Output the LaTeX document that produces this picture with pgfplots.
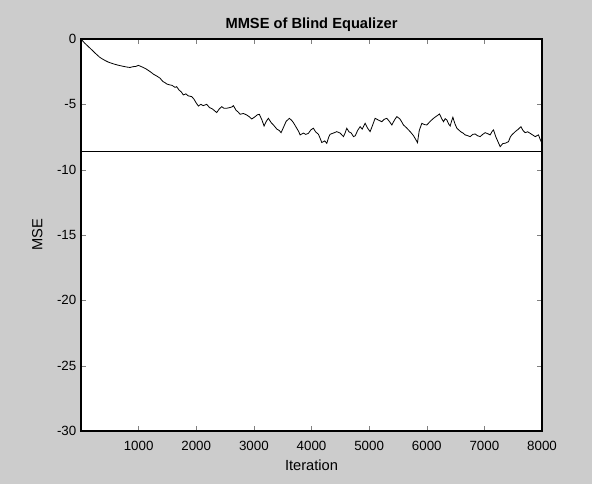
\documentclass[border=0pt]{standalone}
\usepackage{fontspec}
\setmainfont{Liberation Sans}
\usepackage{pgfplots}
\pgfplotsset{compat=1.18}
\usetikzlibrary{calc,backgrounds}
\begin{document}
\begin{tikzpicture}
\begin{axis}[
  name=ax, scale only axis, width=345.75pt, height=294pt,
  xmin=0, xmax=8000, ymin=-30, ymax=0,
  xtick={1000,2000,...,8000}, ytick={-30,-25,...,0},
  tick align=inside, tick pos=both, major tick length=4pt,
  scaled x ticks=false,
  /pgf/number format/assume math mode=true,
  /pgf/number format/set thousands separator={},
  tick label style={font=\fontsize{10}{12}\selectfont},
  xticklabel style={yshift=-4pt},
  title={MMSE of Blind Equalizer},
  title style={font=\bfseries\fontsize{11}{13}\selectfont, yshift=-4pt},
  xlabel={Iteration}, ylabel={MSE},
  label style={font=\fontsize{11}{13}\selectfont},
  xlabel style={yshift=0pt},
  ylabel style={yshift=4pt},
  axis line style={line width=0.9pt},
  axis background/.style={fill=white},
]
\addplot[black, line width=0.6pt] coordinates {
(0,0)(60,-0.3)(120,-0.55)(180,-0.8)(250,-1.1)(320,-1.38)(360,-1.5)(420,-1.65)(480,-1.78)
(560,-1.9)(640,-2.0)(720,-2.08)(800,-2.15)(850,-2.18)(900,-2.12)(950,-2.1)(995,-2.02)
(1040,-2.1)(1090,-2.2)(1140,-2.32)(1200,-2.5)(1260,-2.7)(1320,-2.85)(1372,-3.0)(1420,-3.25)
(1460,-3.35)(1487,-3.44)(1530,-3.5)(1580,-3.55)(1632,-3.7)(1660,-3.65)(1700,-3.9)(1740,-4.05)
(1776,-4.28)(1820,-4.2)(1860,-4.35)(1921,-4.41)(1960,-4.6)(2000,-4.9)(2037,-5.13)(2080,-5.0)
(2120,-5.1)(2182,-5.0)(2230,-5.25)(2280,-5.35)(2320,-5.5)(2355,-5.63)(2400,-5.35)(2442,-5.18)
(2480,-5.3)(2529,-5.3)(2580,-5.25)(2620,-5.2)(2645,-5.1)(2690,-5.45)(2730,-5.6)(2760,-5.76)
(2820,-5.7)(2877,-5.82)(2920,-5.95)(2963,-6.12)(3020,-5.95)(3060,-5.8)(3095,-5.76)(3140,-6.2)
(3177,-6.66)(3215,-6.3)(3252,-6.07)(3300,-6.4)(3339,-6.58)(3400,-6.9)(3440,-7.0)(3472,-7.17)
(3520,-6.7)(3560,-6.3)(3617,-6.07)(3660,-6.25)(3686,-6.4)(3740,-6.8)(3780,-7.1)(3802,-7.34)
(3860,-7.2)(3900,-7.3)(3946,-7.22)(3990,-6.95)(4033,-6.83)(4070,-7.1)(4120,-7.29)(4150,-7.6)
(4178,-7.92)(4230,-7.8)(4265,-7.98)(4300,-7.5)(4323,-7.29)(4380,-7.2)(4439,-7.09)(4497,-7.2)
(4554,-7.47)(4583,-7.2)(4612,-6.83)(4650,-7.1)(4690,-7.2)(4728,-7.47)(4760,-7.4)(4800,-7.0)
(4844,-6.71)(4880,-6.9)(4931,-6.45)(4970,-6.8)(5017,-7.09)(5060,-6.6)(5104,-6.07)(5160,-6.2)
(5220,-6.33)(5260,-6.15)(5307,-6.07)(5350,-6.3)(5394,-6.58)(5440,-6.2)(5481,-5.94)(5530,-6.1)
(5560,-6.3)(5596,-6.58)(5650,-6.8)(5712,-7.09)(5770,-7.4)(5810,-7.7)(5839,-7.93)(5870,-7.0)
(5915,-6.45)(5960,-6.55)(6002,-6.58)(6060,-6.3)(6118,-6.07)(6170,-5.9)(6222,-5.74)(6260,-6.1)
(6291,-6.33)(6320,-6.1)(6349,-6.2)(6380,-6.5)(6406,-6.66)(6430,-6.3)(6453,-5.99)(6490,-6.5)
(6523,-6.83)(6590,-7.1)(6630,-7.2)(6667,-7.34)(6710,-7.4)(6753,-7.47)(6800,-7.3)(6840,-7.27)
(6880,-7.4)(6927,-7.47)(6970,-7.3)(7014,-7.17)(7060,-7.25)(7101,-7.34)(7130,-7.1)(7158,-6.96)
(7200,-7.5)(7240,-7.9)(7274,-8.24)(7320,-8.0)(7361,-7.98)(7418,-7.86)(7450,-7.5)(7477,-7.34)
(7535,-7.09)(7590,-6.9)(7634,-6.71)(7670,-7.0)(7708,-7.17)(7750,-7.1)(7795,-7.22)(7840,-7.35)
(7882,-7.47)(7939,-7.34)(7970,-7.7)(8000,-7.98)
};
% reference level
\addplot[black, line width=0.6pt] coordinates {(0,-8.6)(8000,-8.6)};
\end{axis}
\begin{pgfonlayer}{background}
\fill[gray!40] ($(ax.south west)+(-60.75pt,-39.75pt)$) rectangle ($(ax.north east)+(37.5pt,29.25pt)$);
\end{pgfonlayer}
\end{tikzpicture}
\end{document}
